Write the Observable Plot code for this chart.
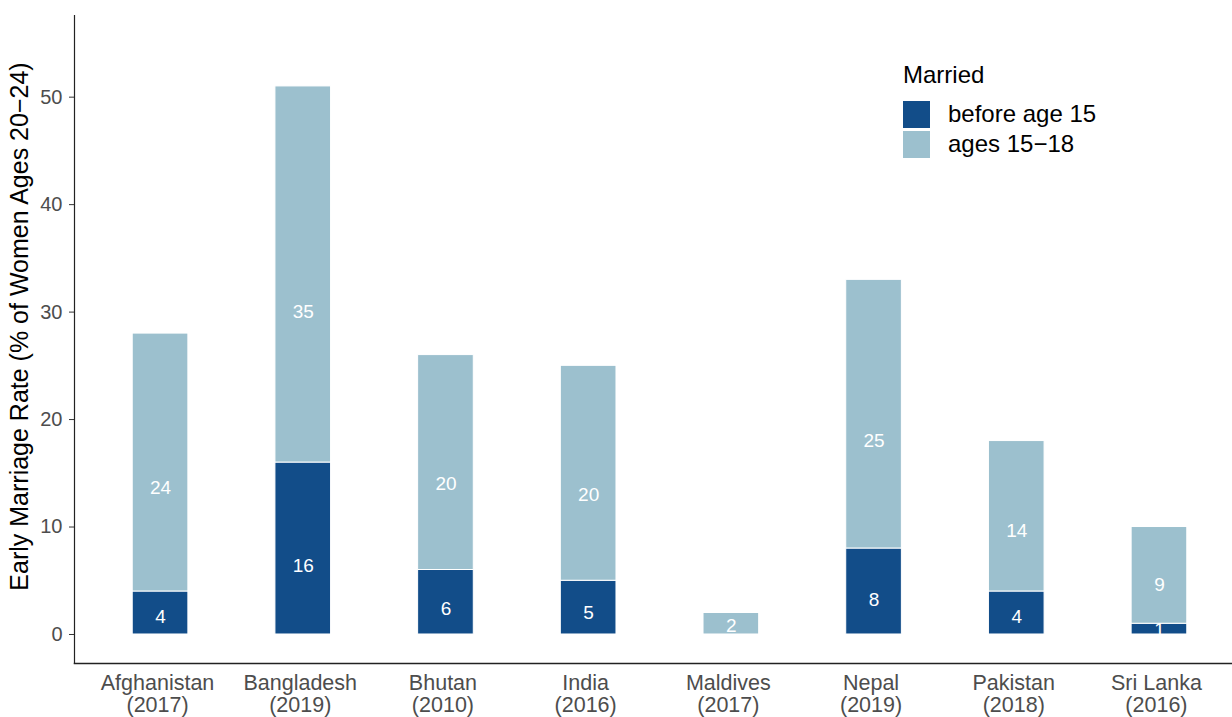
<!DOCTYPE html>
<html>
<head>
<meta charset="utf-8">
<script src="https://cdn.jsdelivr.net/npm/d3@7"></script>
<script src="https://cdn.jsdelivr.net/npm/@observablehq/plot@0.6"></script>
<style>
  html, body { margin: 0; padding: 0; background: #fff; }
  body { font-family: "Liberation Sans", Arial, sans-serif; }
  #wrap { position: relative; width: 1232px; height: 717px; overflow: hidden; }
  #legend { position: absolute; left: 903px; top: 61px; color: #000; }
  #legend .title { font-size: 24px; line-height: 28px; margin-bottom: 10px; }
  #legend .row { display: flex; align-items: center; height: 30px; font-size: 24px; }
  #legend .sw { width: 27px; height: 27px; margin-right: 18px; }
</style>
</head>
<body>
<div id="wrap">
  <div id="chart"></div>
  <div id="legend"></div>
</div>
<script>
const countries = ["Afghanistan", "Bangladesh", "Bhutan", "India", "Maldives", "Nepal", "Pakistan", "Sri Lanka"];
const years = ["2017", "2019", "2010", "2016", "2017", "2019", "2018", "2016"];
const series = ["before age 15", "ages 15\u221218"];
const before15 = [4, 16, 6, 5, 0, 8, 4, 1];
const ages15to18 = [24, 35, 20, 20, 2, 25, 14, 9];
const colors = ["#124d89", "#9cc0ce"];
const yTicks = [0, 10, 20, 30, 40, 50];
const yTitle = "Early Marriage Rate (% of Women Ages 20\u221224)";
const labelFrac = 0.4; // where inside each segment its value label sits

const data = [];
countries.forEach((c, i) => {
  data.push({country: c, series: series[0], value: before15[i], start: 0});
  data.push({country: c, series: series[1], value: ages15to18[i], start: before15[i]});
});
const yearOf = Object.fromEntries(countries.map((c, i) => [c, years[i]]));

const chart = Plot.plot({
  width: 1232,
  height: 717,
  marginTop: 15,
  marginBottom: 54,
  marginLeft: 74,
  marginRight: 0,
  style: {fontFamily: "Liberation Sans, Arial, sans-serif", background: "white"},
  x: {domain: countries, range: [74, 1245], paddingInner: 0.61, paddingOuter: 0.408, align: 0.5, round: false},
  y: {domain: [-2.7, 57.6]},
  color: {domain: series, range: colors},
  marks: [
    Plot.barY(data, {x: "country", y: "value", fill: "series", stroke: "white", strokeWidth: 1, order: series}),
    Plot.text(data.filter(d => d.value > 0), {x: "country", y: d => d.start + d.value * labelFrac, text: d => String(d.value), fill: "white", fontSize: 19}),
    Plot.axisY({ticks: yTicks, tickSize: 5, tickPadding: 7, fontSize: 20, color: "#4d4d4d", stroke: "#333", label: null}),
    Plot.text([yTitle], {frameAnchor: "left", rotate: -90, dx: -55, dy: -13, fontSize: 25, textAnchor: "middle", lineAnchor: "middle", fill: "black"}),
    Plot.axisX({tickSize: 0, tickPadding: 11, dx: -3, fontSize: 21.5, color: "#4d4d4d", lineHeight: 1.03, label: null, tickFormat: c => `${c}\n(${yearOf[c]})`}),
    Plot.frame({anchor: "left", stroke: "#222", strokeWidth: 1.2}),
    Plot.frame({anchor: "bottom", stroke: "#222", strokeWidth: 1.5})
  ]
});
document.getElementById("chart").appendChild(chart);

const legend = document.getElementById("legend");
legend.innerHTML = `<div class="title">Married</div>` + series.map((s, i) =>
  `<div class="row"><div class="sw" style="background:${colors[i]}"></div><span>${s}</span></div>`).join("");
</script>
</body>
</html>
